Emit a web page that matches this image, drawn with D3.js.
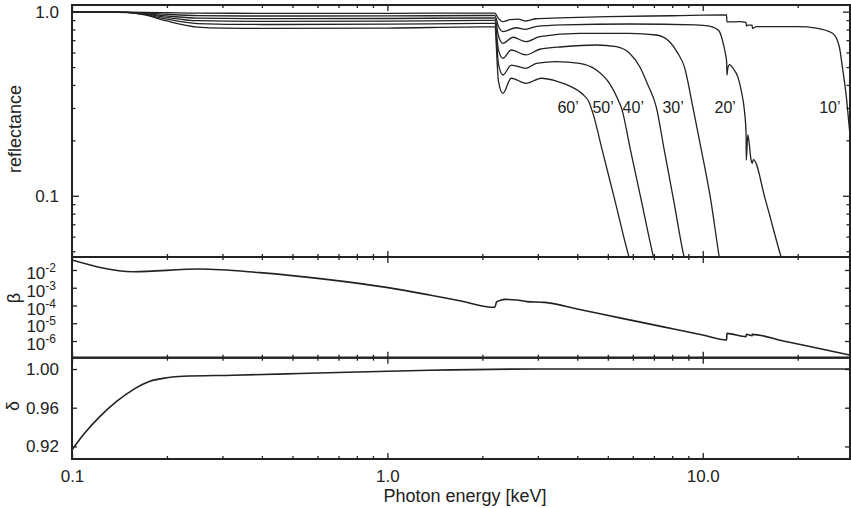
<!DOCTYPE html>
<html>
<head>
<meta charset="utf-8">
<script src="https://cdn.jsdelivr.net/npm/d3@7"></script>
<style>
  body { margin: 0; background: #fff; }
  text { font-family: "Liberation Sans", Arial, Helvetica, sans-serif; fill: #222; }
</style>
</head>
<body>
<svg id="chart" width="851" height="508"></svg>
<script>
// ---- data (energy in keV) ----
var angleLabels = ["10\u2019", "20\u2019", "30\u2019", "40\u2019", "50\u2019", "60\u2019"];
var labelEnergy = [23.4, 10.9, 7.45, 5.57, 4.47, 3.46];

var refl10 = [[0.1,0.995],[0.13,0.995],[0.15,0.994],[0.17,0.992],[0.2,0.988],[0.25,0.982],[0.4,0.98],[1.0,0.98],[2.0,0.983],[2.19,0.983],
  [2.25,0.92],[2.325,0.882],[2.45,0.905],[2.6,0.91],[2.75,0.89],[2.95,0.915],[3.5,0.925],[5,0.94],[8,0.95],[11.9,0.96],
  [11.93,0.88],[13.1,0.882],[13.72,0.875],[13.75,0.836],[13.9,0.845],[14.34,0.845],[14.37,0.812],[14.8,0.829],[20,0.829],
  [22.9,0.815],[25.8,0.763],[27.1,0.645],[27.7,0.503],[28.5,0.35],[29.2,0.227],[29.6,0.18]];

var refl20 = [[0.1,0.995],[0.13,0.995],[0.15,0.992],[0.17,0.985],[0.2,0.968],[0.25,0.952],[0.4,0.947],[1.0,0.948],[2.0,0.953],[2.19,0.953],
  [2.25,0.83],[2.325,0.779],[2.56,0.818],[2.75,0.802],[2.95,0.83],[3.6,0.847],[5.9,0.857],[9.5,0.847],[10.5,0.835],[11.0,0.81],
  [11.3,0.779],[11.57,0.69],[11.78,0.6],[11.91,0.53],[11.93,0.453],[12.0,0.49],[12.15,0.516],[12.5,0.49],[12.91,0.444],
  [13.3,0.36],[13.55,0.292],[13.72,0.218],[13.74,0.156],[13.89,0.214],[14.0,0.2],[14.23,0.156],[14.34,0.15],[14.47,0.157],
  [15.8,0.095],[17.72,0.0465],[18.2,0.04]];

var refl30 = [[0.1,0.995],[0.13,0.995],[0.15,0.991],[0.17,0.978],[0.2,0.948],[0.25,0.922],[0.4,0.916],[1.0,0.918],[2.0,0.924],[2.19,0.924],
  [2.25,0.74],[2.325,0.673],[2.5,0.726],[2.75,0.687],[3.04,0.732],[4.07,0.763],[5.86,0.763],[7.12,0.747],[7.85,0.687],
  [8.34,0.594],[8.75,0.50],[9.3,0.304],[9.9,0.177],[10.6,0.095],[11.3,0.0455],[11.6,0.035]];

var refl40 = [[0.1,0.995],[0.13,0.995],[0.15,0.99],[0.17,0.972],[0.2,0.93],[0.25,0.893],[0.4,0.885],[1.0,0.888],[2.0,0.896],[2.19,0.896],
  [2.25,0.62],[2.325,0.558],[2.47,0.619],[2.75,0.582],[3.04,0.625],[3.6,0.645],[4.6,0.659],[5.32,0.645],[5.86,0.594],
  [6.3,0.505],[6.7,0.40],[7.12,0.304],[7.55,0.177],[8.08,0.095],[8.75,0.0455],[9.0,0.038]];

var refl50 = [[0.1,0.995],[0.13,0.995],[0.15,0.99],[0.17,0.966],[0.2,0.91],[0.25,0.862],[0.4,0.852],[1.0,0.855],[2.0,0.863],[2.19,0.863],
  [2.25,0.52],[2.325,0.453],[2.47,0.513],[2.75,0.492],[2.97,0.524],[3.43,0.535],[4.07,0.524],[4.6,0.482],[5.06,0.408],
  [5.45,0.318],[5.51,0.304],[5.90,0.177],[6.38,0.095],[7.0,0.0455],[7.2,0.038]];

var refl60 = [[0.1,0.995],[0.13,0.995],[0.15,0.989],[0.17,0.96],[0.2,0.89],[0.25,0.825],[0.3,0.813],[0.4,0.812],[1.0,0.815],[2.0,0.826],[2.19,0.826],
  [2.25,0.42],[2.325,0.36],[2.47,0.435],[2.75,0.408],[3.08,0.435],[3.43,0.42],[3.78,0.395],[4.17,0.355],[4.35,0.325],
  [4.5,0.275],[4.8,0.177],[5.26,0.095],[5.86,0.0455],[6.0,0.04]];

var beta = [[0.1,0.0365],[0.1564,0.0080],[0.2545,0.0114],[0.394,0.00707],[0.641,0.00297],[0.993,0.00105],[1.36,3.9e-4],
  [1.695,1.85e-4],[2.19,7.9e-5],[2.22,1.6e-4],[2.29,2.0e-4],[2.35,2.2e-4],[2.74,1.75e-4],[2.76,1.65e-4],[3.15,1.5e-4],
  [4.0,6.3e-5],[5.5,1.95e-5],[7.5,6.25e-6],[10,2.17e-6],[11.9,1.15e-6],[11.93,2.7e-6],[13.72,1.75e-6],[13.74,2.4e-6],
  [14.34,2.0e-6],[14.36,2.35e-6],[18,1.0e-6],[23,4.0e-7],[29.3,1.6e-7]];

var delta = [[0.1,0.9164],[0.1086,0.932],[0.1227,0.951],[0.1385,0.9665],[0.1564,0.9787],[0.1766,0.9873],[0.1995,0.9909],
  [0.2252,0.9925],[0.3243,0.9936],[0.5277,0.9953],[1.36,0.9988],[3.0,1.0],[29.3,1.0]];

var xMajor = [0.1, 1, 10];
var xMajorLabels = ["0.1", "1.0", "10.0"];
var xMinor = [0.2,0.3,0.4,0.5,0.6,0.7,0.8,0.9,2,3,4,5,6,7,8,9,20];
var reflMajor = [0.1, 1];
var reflMajorLabels = ["0.1", "1.0"];
var reflMinor = [0.05,0.06,0.07,0.08,0.09,0.2,0.3,0.4,0.5,0.6,0.7,0.8,0.9];
var betaTicks = [1e-2, 1e-3, 1e-4, 1e-5, 1e-6];
var betaExp = ["-2", "-3", "-4", "-5", "-6"];
var deltaTicks = [1.00, 0.96, 0.92];
var deltaLabels = ["1.00", "0.96", "0.92"];

function init() {
  var left = 72, right = 850;
  var p1 = {top: 5, bottom: 257},
      p2 = {top: 257, bottom: 357.7},
      p3 = {top: 357.7, bottom: 459};
  var ink = "#222";

  var svg = d3.select("#chart");

  var x = d3.scaleLog().domain([0.1, 29.3]).range([left, right]);
  var yR = d3.scaleLog().domain([0.0465, 1.087]).range([p1.bottom, p1.top]);
  var yB = d3.scaleLog().domain([Math.pow(10, -6.94), Math.pow(10, -1.268)]).range([p2.bottom, p2.top]);
  var yD = d3.scaleLinear().domain([0.907, 1.0117]).range([p3.bottom, p3.top]);

  var panels = [[p1, "clip1"], [p2, "clip2"], [p3, "clip3"]];
  var defs = svg.append("defs");
  panels.forEach(function(p) {
    defs.append("clipPath").attr("id", p[1])
      .append("rect")
      .attr("x", left).attr("y", p[0].top)
      .attr("width", right - left).attr("height", p[0].bottom - p[0].top);
  });

  function styleAxis(g) {
    g.select(".domain").remove();
    g.selectAll(".tick line").attr("stroke", ink).attr("stroke-width", 1.3);
    g.selectAll(".tick text").attr("font-size", 17).attr("font-family", null).attr("fill", ink);
  }

  // x ticks on each panel edge, pointing inside
  function xTicks(yPos, dir, showLabels) {
    var axisMaker = dir > 0 ? d3.axisBottom : d3.axisTop;
    svg.append("g")
      .attr("transform", `translate(0, ${yPos})`)
      .call(axisMaker(x).tickValues(xMinor).tickSize(-3).tickFormat(""))
      .call(styleAxis);
    svg.append("g")
      .attr("transform", `translate(0, ${yPos})`)
      .call(axisMaker(x).tickValues(xMajor).tickSize(-6).tickPadding(11)
        .tickFormat(function(d, i) { return showLabels ? xMajorLabels[i] : ""; }))
      .call(styleAxis);
  }

  xTicks(p1.top, -1, false);
  xTicks(p1.bottom, 1, false);
  xTicks(p2.top, -1, false);
  xTicks(p2.bottom, 1, false);
  xTicks(p3.top, -1, false);
  xTicks(p3.bottom, 1, true);

  // panel 1 y axes
  svg.append("g").attr("transform", `translate(${left}, 0)`)
    .call(d3.axisLeft(yR).tickValues(reflMinor).tickSize(-3.5).tickFormat(""))
    .call(styleAxis);
  svg.append("g").attr("transform", `translate(${left}, 0)`)
    .call(d3.axisLeft(yR).tickValues(reflMajor).tickSize(-7).tickPadding(13)
      .tickFormat(function(d, i) { return reflMajorLabels[i]; }))
    .call(styleAxis);
  svg.append("g").attr("transform", `translate(${right}, 0)`)
    .call(d3.axisRight(yR).tickValues(reflMinor).tickSize(-3.5).tickFormat(""))
    .call(styleAxis);
  svg.append("g").attr("transform", `translate(${right}, 0)`)
    .call(d3.axisRight(yR).tickValues(reflMajor).tickSize(-7).tickFormat(""))
    .call(styleAxis);

  // panel 2 y axes
  var gB = svg.append("g").attr("transform", `translate(${left}, 0)`)
    .call(d3.axisLeft(yB).tickValues(betaTicks).tickSize(-5).tickPadding(16).tickFormat(""))
    .call(styleAxis);
  gB.selectAll(".tick text").each(function(d, i) {
    var t = d3.select(this);
    t.append("tspan").text("10");
    t.append("tspan").attr("font-size", 12).attr("dy", -7).text(betaExp[i]);
  }).attr("dy", "0.5em");
  svg.append("g").attr("transform", `translate(${right}, 0)`)
    .call(d3.axisRight(yB).tickValues(betaTicks).tickSize(-5).tickFormat(""))
    .call(styleAxis);

  // panel 3 y axes
  svg.append("g").attr("transform", `translate(${left}, 0)`)
    .call(d3.axisLeft(yD).tickValues(deltaTicks).tickSize(-5).tickPadding(13)
      .tickFormat(function(d, i) { return deltaLabels[i]; }))
    .call(styleAxis);
  svg.append("g").attr("transform", `translate(${right}, 0)`)
    .call(d3.axisRight(yD).tickValues(deltaTicks).tickSize(-5).tickFormat(""))
    .call(styleAxis);

  // curves
  var lineR = d3.line().curve(d3.curveMonotoneX).x(d => x(d[0])).y(d => yR(d[1]));
  var lineB = d3.line().curve(d3.curveMonotoneX).x(d => x(d[0])).y(d => yB(d[1]));
  var lineD = d3.line().curve(d3.curveMonotoneX).x(d => x(d[0])).y(d => yD(d[1]));

  var reflSeries = [refl10, refl20, refl30, refl40, refl50, refl60];
  svg.append("g").attr("clip-path", "url(#clip1)")
    .selectAll("path")
    .data(reflSeries)
    .join("path")
    .attr("d", lineR)
    .attr("fill", "none")
    .attr("stroke", ink)
    .attr("stroke-width", 1.3)
    .attr("stroke-linejoin", "round");

  svg.append("path").attr("clip-path", "url(#clip2)")
    .datum(beta).attr("d", lineB)
    .attr("fill", "none").attr("stroke", ink).attr("stroke-width", 1.6);

  svg.append("path").attr("clip-path", "url(#clip3)")
    .datum(delta).attr("d", lineD)
    .attr("fill", "none").attr("stroke", ink).attr("stroke-width", 1.6);

  // angle labels
  svg.append("g").selectAll("text")
    .data(angleLabels)
    .join("text")
    .attr("x", (d, i) => x(labelEnergy[i]))
    .attr("y", yR(0.281))
    .attr("font-size", 16)
    .text(d => d);

  // frames
  [p1, p2, p3].forEach(function(p) {
    svg.append("rect")
      .attr("x", left).attr("y", p.top)
      .attr("width", right - left).attr("height", p.bottom - p.top)
      .attr("fill", "none").attr("stroke", ink).attr("stroke-width", 2);
  });

  // axis titles
  svg.append("text")
    .attr("transform", `translate(21, ${(p1.top + p1.bottom) / 2 - 2}) rotate(-90)`)
    .attr("text-anchor", "middle")
    .attr("font-size", 18)
    .text("reflectance");
  svg.append("text")
    .attr("transform", `translate(20, 298) rotate(-90)`)
    .attr("text-anchor", "middle")
    .attr("font-size", 18)
    .text("\u03b2");
  svg.append("text")
    .attr("transform", `translate(19, 406) rotate(-90)`)
    .attr("text-anchor", "middle")
    .attr("font-size", 18)
    .text("\u03b4");
  svg.append("text")
    .attr("x", (left + right) / 2 + 4)
    .attr("y", 502)
    .attr("text-anchor", "middle")
    .attr("font-size", 18)
    .text("Photon energy [keV]");
}

window.onload = init;
</script>
</body>
</html>
